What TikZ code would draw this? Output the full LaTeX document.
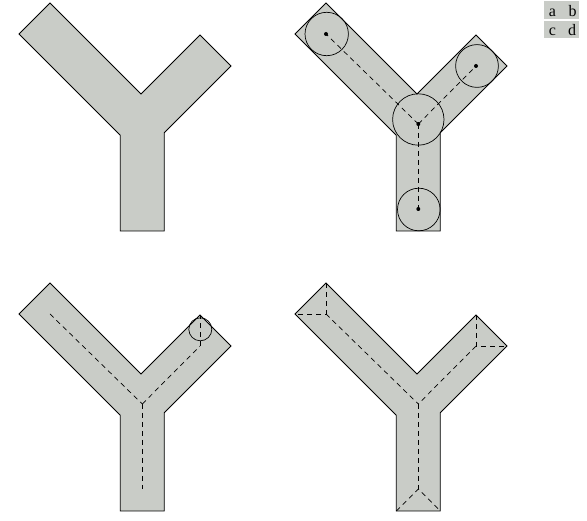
\documentclass[tikz,border=0pt]{standalone}
\usepackage{tikz}
\usepackage{fontspec}
\setmainfont{Liberation Serif}
\usetikzlibrary{calc}
\definecolor{ygray}{RGB}{201,204,199}
\tikzset{
  yfill/.style={fill=ygray, draw=black, line width=0.8pt, line join=miter},
  skel/.style={dash pattern=on 5pt off 4pt, line width=0.7pt},
  ring/.style={draw=black, line width=0.7pt},
  dotmark/.style={fill=black},
  legbox/.style={fill=ygray, draw=none},
  legtxt/.style={font=\fontsize{16}{18}\selectfont, anchor=base, inner sep=0pt},
  yshape/.pic={
    \coordinate (-L1) at (50,3);
    \coordinate (-N)  at (141,94);
    \coordinate (-R1) at (200,35);
    \coordinate (-R2) at (231,66);
    \coordinate (-J2) at (164.3,132.7);
    \coordinate (-B2) at (164.3,231);
    \coordinate (-B1) at (120.3,231);
    \coordinate (-J1) at (120.3,135.3);
    \coordinate (-L2) at (19,34);
    \coordinate (-P1) at (50,34);
    \coordinate (-P2) at (200,66);
    \coordinate (-P3) at (142.3,209);
    \coordinate (-J)  at (142.3,124);
    \draw[yfill] (-L1) -- (-N) -- (-R1) -- (-R2) -- (-J2) -- (-B2) -- (-B1) -- (-J1) -- (-L2) -- cycle;
  }
}
\begin{document}
\begin{tikzpicture}[x=1pt,y=-1pt]
\useasboundingbox (0,0) rectangle (587,521);

% panel a
\pic (a) at (0,0) {yshape};

% panel b
\pic (b) at (276,0) {yshape};
\draw[skel] (b-J) -- (b-P1);
\draw[skel] (b-J) -- (b-P2);
\draw[skel] (b-J) -- (b-P3);
\draw[ring] (b-P1) ++(0.7,0) circle[radius=21.7];
\draw[ring] (b-P2) ++(1,0) circle[radius=21.4];
\draw[ring] (b-J) ++(0,-4.5) circle[radius=25.7];
\draw[ring] (b-P3) ++(0.5,0.5) circle[radius=21.3];
\foreach \p in {P1,P2,J,P3} \fill[dotmark] (b-\p) circle[radius=2];

% panel c
\pic (c) at (0,280) {yshape};
\draw[skel] (c-P1) -- (c-J);
\draw[skel] (c-J) -- (c-P2);
\draw[skel] (c-J) -- (c-P3);
\draw[skel] (c-P2) -- (c-R1);
\coordinate (cc) at ($(c-R1)+(0.3,14.3)$);
\draw[ring] (cc) circle[radius=11.5];

% panel d
\pic (d) at (276,280) {yshape};
\draw[skel] (d-L1) -- (d-P1) -- (d-L2);
\draw[skel] (d-P1) -- (d-J);
\draw[skel] (d-R1) -- (d-P2) -- (d-R2);
\draw[skel] (d-P2) -- (d-J);
\draw[skel] (d-J) -- (d-P3);
\draw[skel] (d-B1) -- (d-P3) -- (d-B2);

% legend
\fill[legbox] (544,1) rectangle (579,19);
\fill[legbox] (544,21) rectangle (579,38);
\node[legtxt] (la) at (552.5,16.5) {a};
\node[legtxt] (lb) at (572.5,16.5) {b};
\node[legtxt] (lc) at (552.5,35.5) {c};
\node[legtxt] (ld) at (572,35.5) {d};
\end{tikzpicture}
\end{document}
